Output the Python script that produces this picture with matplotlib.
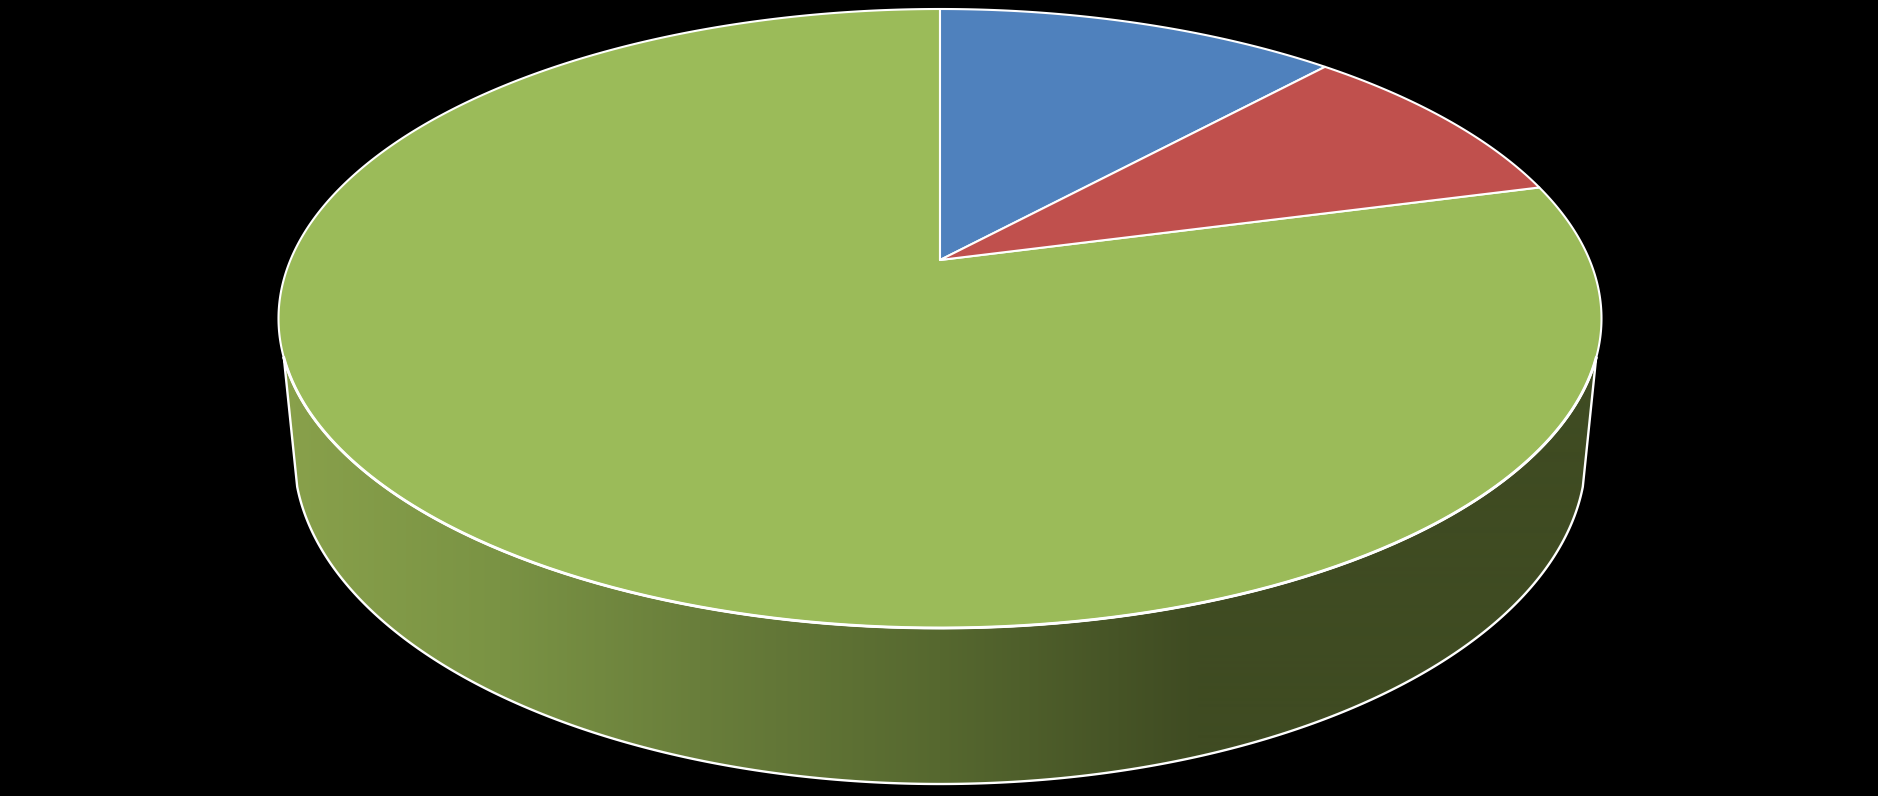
#!/usr/bin/env python3
"""3D-look pie on black: three slices, flat top in perspective, shaded wall."""

import matplotlib
matplotlib.use("Agg")
import matplotlib.pyplot as plt
import numpy as np
from matplotlib.colors import to_rgb
from matplotlib.patches import Polygon

# slice shares in %, clockwise from 12 o'clock
categories = ["A", "B", "C"]
values = [11.8, 9.1, 79.1]
colors = ["#4F81BD", "#C0504D", "#9BBB59"]

W, H = 1878, 796
EDGE = "white"
TOP_LW = 1.5
SEAM_LW = 2.1
WALL_LW = 1.7

# top ellipse, bottom ellipse (px)
CX = 940
TOP_A, TOP_B, TOP_CY = 661.5, 309.5, 318.5
BOT_A, BOT_B, BOT_CY = 646, 330, 454
# where the pie centre lands on the top ellipse (fraction of TOP_B above its middle)
APEX_SHIFT = 0.189
# angles below horizontal where the straight wall silhouette meets each ellipse
TOP_TANGENT = np.radians(7.3)
BOT_TANGENT = np.radians(5.7)

# wall shading, left to right
GRAD_X = [280, 500, 700, 940, 1198, 1600]
GRAD_C = ["#89A14B", "#7A9344", "#697E3B", "#56682F", "#3F4B22", "#3F4B22"]


def project(u, v):
    """Unit disc (u right, v up) to image pixels, with perspective."""
    d = APEX_SHIFT
    w = 1 + d * v
    x = u * np.sqrt(1 - d * d) / w
    y = (v + d) / w
    return CX + TOP_A * x, TOP_CY - TOP_B * y


def wedge_points(start, stop):
    phi = np.radians(np.linspace(start, stop, max(int(stop - start) * 2, 2) + 1))
    xs, ys = project(np.sin(phi), np.cos(phi))
    ax_, ay_ = project(0.0, 0.0)
    return np.column_stack([np.r_[ax_, xs], np.r_[ay_, ys]])


def top_arc():
    t = np.linspace(TOP_TANGENT, np.pi - TOP_TANGENT, 300)
    return np.column_stack([CX + TOP_A * np.cos(t), TOP_CY + TOP_B * np.sin(t)])


def wall_points():
    t_bot = np.linspace(np.pi - BOT_TANGENT, BOT_TANGENT, 300)
    bot = np.column_stack([CX + BOT_A * np.cos(t_bot), BOT_CY + BOT_B * np.sin(t_bot)])
    return np.vstack([top_arc(), bot])


def main():
    fig = plt.figure(figsize=(W / 100, H / 100), dpi=100, facecolor="black")
    ax = fig.add_axes([0, 0, 1, 1])
    ax.set_facecolor("black")

    # side wall: horizontal gradient clipped to the wall outline
    stops = np.array([to_rgb(c) for c in GRAD_C])
    cols = np.arange(W) + 0.5
    grad = np.stack([np.interp(cols, GRAD_X, stops[:, i]) for i in range(3)], axis=-1)
    img = ax.imshow(grad[np.newaxis, :, :], extent=(0, W, H, 0), aspect="auto",
                    interpolation="bilinear", zorder=1)
    wall = Polygon(wall_points(), closed=True, facecolor="none", edgecolor=EDGE,
                   linewidth=WALL_LW, joinstyle="round", zorder=2)
    ax.add_patch(wall)
    img.set_clip_path(wall)

    # flat top, largest slice first so thin white seams stay visible
    edges = np.r_[0, np.cumsum(values)] / np.sum(values) * 360
    for i in np.argsort(values)[::-1]:
        ax.add_patch(Polygon(wedge_points(edges[i], edges[i + 1]), closed=True,
                             facecolor=colors[i], edgecolor=EDGE, linewidth=TOP_LW,
                             joinstyle="round", zorder=3))

    # front seam between top and wall is a bit heavier than the far rim
    arc = top_arc()
    ax.plot(arc[:, 0], arc[:, 1], color=EDGE, linewidth=SEAM_LW, zorder=4)

    ax.set_xlim(0, W)
    ax.set_ylim(H, 0)
    ax.axis("off")
    fig.savefig("out.png", dpi=100, facecolor="black")
    plt.close(fig)


if __name__ == "__main__":
    main()
